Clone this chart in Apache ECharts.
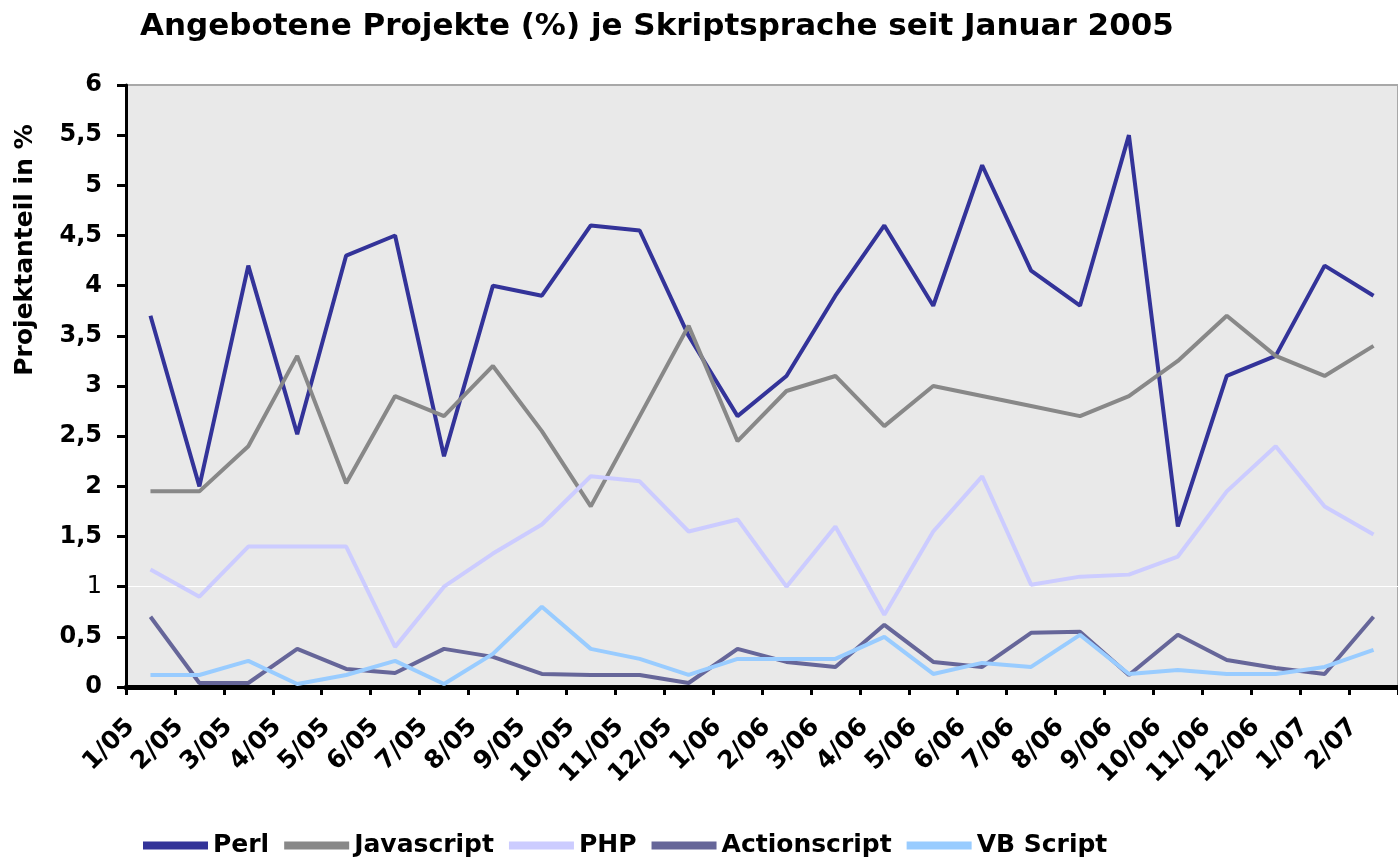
<!DOCTYPE html>
<html>
<head>
<meta charset="utf-8">
<script src="https://cdn.jsdelivr.net/npm/echarts@6/dist/echarts.min.js"></script>
<style>
html,body{margin:0;padding:0;background:#fff;}
#chart{width:1398px;height:863px;}
</style>
</head>
<body>
<div id="chart"></div>
<script>
const titleText = 'Angebotene Projekte (%) je Skriptsprache seit Januar 2005';
const yAxisName = 'Projektanteil in %';
const categories = ['1/05','2/05','3/05','4/05','5/05','6/05','7/05','8/05','9/05','10/05','11/05','12/05',
  '1/06','2/06','3/06','4/06','5/06','6/06','7/06','8/06','9/06','10/06','11/06','12/06','1/07','2/07'];
const yTickLabels = ['0','0,5','1','1,5','2','2,5','3','3,5','4','4,5','5','5,5','6'];
const seriesNames = ['Perl','Javascript','PHP','Actionscript','VB Script'];
const perl = [3.7, 2.0, 4.2, 2.52, 4.3, 4.5, 2.3, 4.0, 3.9, 4.6, 4.55, 3.5, 2.7, 3.1, 3.9, 4.6, 3.8, 5.2, 4.15, 3.8, 5.5, 1.6, 3.1, 3.3, 4.2, 3.9];
const javascript = [1.95, 1.95, 2.4, 3.3, 2.03, 2.9, 2.7, 3.2, 2.55, 1.8, 2.7, 3.6, 2.45, 2.95, 3.1, 2.6, 3.0, 2.9, 2.8, 2.7, 2.9, 3.25, 3.7, 3.3, 3.1, 3.4];
const php = [1.17, 0.9, 1.4, 1.4, 1.4, 0.4, 1.0, 1.33, 1.62, 2.1, 2.05, 1.55, 1.67, 1.0, 1.6, 0.72, 1.55, 2.1, 1.02, 1.1, 1.12, 1.3, 1.95, 2.4, 1.8, 1.52];
const actionscript = [0.7, 0.04, 0.04, 0.38, 0.18, 0.14, 0.38, 0.3, 0.13, 0.12, 0.12, 0.04, 0.38, 0.25, 0.2, 0.62, 0.25, 0.2, 0.54, 0.55, 0.12, 0.52, 0.27, 0.19, 0.13, 0.7];
const vbscript = [0.12, 0.12, 0.26, 0.03, 0.12, 0.26, 0.03, 0.33, 0.8, 0.38, 0.28, 0.12, 0.28, 0.28, 0.28, 0.5, 0.13, 0.24, 0.2, 0.52, 0.13, 0.17, 0.13, 0.13, 0.2, 0.37];
const seriesData = [perl, javascript, php, actionscript, vbscript];
const colors = ['#333399','#888888','#ccccff','#666699','#99ccff'];

const FONT = 'DejaVu Sans';
const splitColors = yTickLabels.map((t, i) => i === 2 ? '#ffffff' : 'rgba(0,0,0,0)');

const chart = echarts.init(document.getElementById('chart'), null, {renderer: 'canvas'});
chart.setOption({
  animation: false,
  backgroundColor: '#ffffff',
  title: {
    text: titleText,
    left: 135,
    top: 6,
    textStyle: {fontFamily: FONT, fontSize: 31, fontWeight: 'bold', color: '#000'}
  },
  legend: {
    left: 138,
    top: 828,
    itemWidth: 65,
    itemHeight: 8,
    itemGap: 15,
    icon: 'rect',
    textStyle: {fontFamily: FONT, fontSize: 25, fontWeight: 'bold', color: '#000'},
    data: seriesNames
  },
  grid: {
    left: 126, top: 85, right: -15, bottom: 176,
    show: true, backgroundColor: '#e9e9e9', borderColor: '#a8a8a8', borderWidth: 2
  },
  xAxis: {
    type: 'category',
    data: categories,
    boundaryGap: true,
    axisLine: {lineStyle: {color: '#000', width: 5}},
    axisTick: {show: true, length: 8, lineStyle: {color: '#000', width: 3}},
    axisLabel: {
      interval: 0, rotate: 45, margin: 36,
      formatter: v => '{a|' + v + '}',
      rich: {
        a: {fontFamily: FONT, fontSize: 25, fontWeight: 'bold', color: '#000', padding: [0, 14, 28, 0]}
      }
    },
    splitLine: {show: false}
  },
  yAxis: {
    type: 'value',
    min: 0, max: 6, interval: 0.5,
    axisLine: {show: true, lineStyle: {color: '#000', width: 3}},
    axisTick: {show: true, length: 9, lineStyle: {color: '#000', width: 3}},
    axisLabel: {
      margin: 24,
      fontFamily: FONT, fontSize: 24, fontWeight: 'bold', color: '#000',
      formatter: v => {
        const t = yTickLabels[Math.round(v * 2)];
        return t === '1' ? '{thin|' + t + '}' : t;
      },
      rich: {
        thin: {fontFamily: FONT, fontSize: 24, fontWeight: 'normal', color: '#000'}
      }
    },
    splitLine: {show: true, lineStyle: {color: splitColors, width: 1}}
  },
  graphic: [{
    type: 'text',
    x: 25, y: 250,
    rotation: Math.PI / 2,
    style: {
      text: yAxisName,
      font: 'bold 25px "DejaVu Sans"',
      fill: '#000',
      textAlign: 'center',
      textVerticalAlign: 'middle',
      verticalAlign: 'middle'
    }
  }],
  series: seriesNames.map((name, i) => ({
    name: name,
    type: 'line',
    data: seriesData[i],
    showSymbol: false,
    symbol: 'none',
    color: colors[i],
    lineStyle: {color: colors[i], width: 4},
    itemStyle: {color: colors[i]}
  }))
});
</script>
</body>
</html>
